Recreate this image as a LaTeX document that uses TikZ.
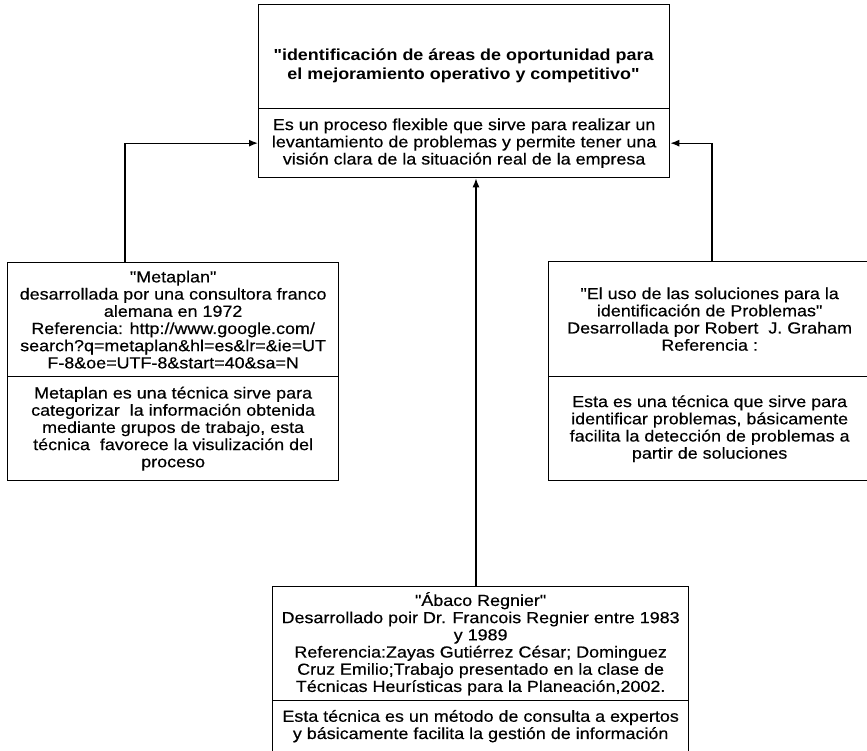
\documentclass[tikz,border=0pt]{standalone}
\usepackage{fontspec}
\setmainfont{Liberation Sans}[Ligatures=TeXOff, FakeStretch=1.12,
  UprightFeatures={FakeBold=0.4}]
\usetikzlibrary{arrows.meta}

\newcommand{\bodyfont}{\fontsize{16}{17.2}\selectfont}
\newcommand{\headfont}{\fontsize{16}{19.5}\selectfont\bfseries}

\tikzset{
  part/.style={draw=black, line width=1.3pt, rectangle, inner sep=0pt,
    anchor=north west, align=center, font=\bodyfont, text=black},
  words/.style={inner sep=0pt, align=center, font=\bodyfont, text=black},
  conn/.style={draw=black, line width=1.3pt,
    -{Latex[length=9pt,width=7pt]}},
}

\begin{document}
\begin{tikzpicture}[x=1pt, y=-1pt]
  \useasboundingbox (0,0) rectangle (867,750);
  \fill[white] (0,0) rectangle (867,750);

  % central box: objective and description
  \node[part, minimum width=411, minimum height=104] (topA) at (258,4) {};
  \node[words, font=\headfont] (topTitle) at (463.5,66)
    {"identificación de áreas de oportunidad para\\
     el mejoramiento operativo y competitivo"};
  \node[part, minimum width=411, minimum height=69] (topB) at (258,108)
    {Es un proceso flexible que sirve para realizar un\\
     levantamiento de problemas y permite tener una\\
     visión clara de la situación real de la empresa};

  % Metaplan
  \node[part, minimum width=331, minimum height=114] (leftA) at (7,262)
    {"Metaplan"\\
     desarrollada por una consultora franco\\
     alemana en 1972\\
     Referencia: http://www.google.com/\\
     search?q=metaplan\&hl=es\&lr=\&ie=UT\\
     F-8\&oe=UTF-8\&start=40\&sa=N};
  \node[part, minimum width=331, minimum height=104] (leftB) at (7,376)
    {Metaplan es una técnica sirve para\\
     categorizar\ \ la información obtenida\\
     mediante grupos de trabajo, esta\\
     técnica\ \ favorece la visulización del\\
     proceso};

  % Solutions technique
  \node[part, minimum width=322, minimum height=115] (rightA) at (548,261)
    {"El uso de las soluciones para la\\
     identificación de Problemas"\\
     Desarrollada por Robert\ \ J. Graham\\
     Referencia :};
  \node[part, minimum width=322, minimum height=104] (rightB) at (548,376)
    {Esta es una técnica que sirve para\\
     identificar problemas, básicamente\\
     facilita la detección de problemas a\\
     partir de soluciones};

  % Regnier abacus
  \node[part, minimum width=416, minimum height=114] (botA) at (272,586)
    {"Ábaco Regnier"\\
     Desarrollado poir Dr. Francois Regnier entre 1983\\
     y 1989\\
     Referencia:Zayas Gutiérrez César; Dominguez\\
     Cruz Emilio;Trabajo presentado en la clase de\\
     Técnicas Heurísticas para la Planeación,2002.};
  \node[part, minimum width=416, minimum height=51] (botB) at (272,700)
    {Esta técnica es un método de consulta a expertos\\
     y básicamente facilita la gestión de información};

  % connector columns
  \coordinate (lx) at (125,0);
  \coordinate (rx) at (712,0);
  \coordinate (cx) at (476,0);

  \draw[conn] (leftA.north -| lx) |- (topB.west);
  \draw[conn] (rightA.north -| rx) |- (topB.east);
  \draw[conn] (botA.north -| cx) -- (topB.south -| cx);
\end{tikzpicture}
\end{document}
